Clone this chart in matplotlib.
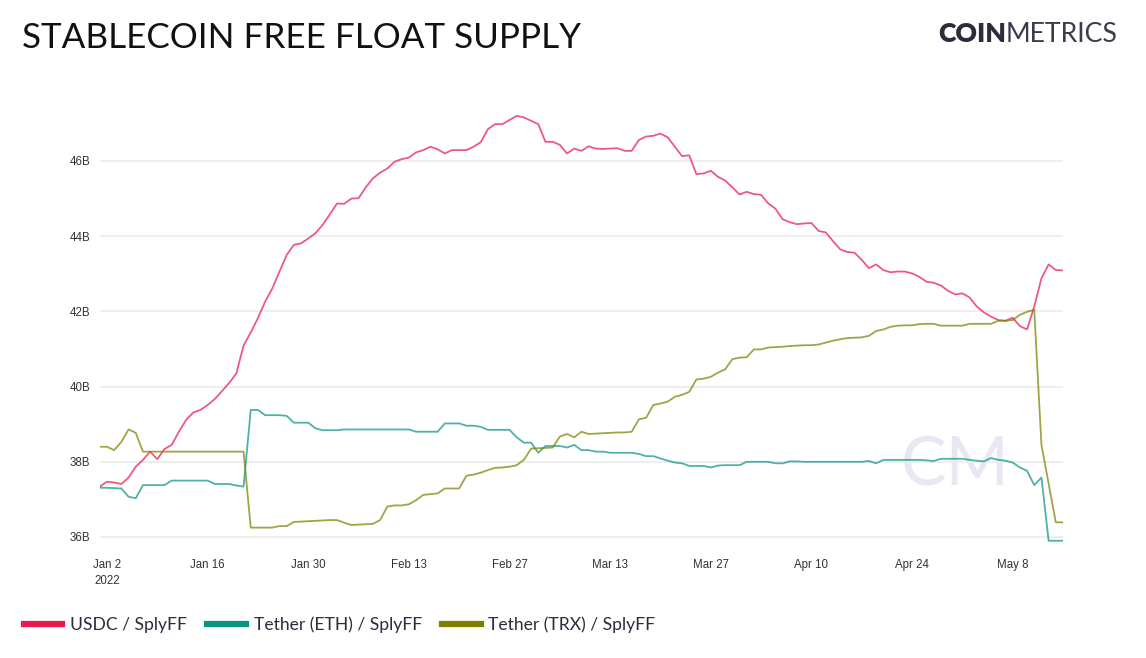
import numpy as np
import pandas as pd
import matplotlib
matplotlib.use("Agg")
import matplotlib.pyplot as plt
import matplotlib.dates as mdates
from matplotlib.lines import Line2D

# daily values, Jan 1 2022 .. May 15 2022, in billions
dates = pd.date_range("2022-01-01", "2022-05-15", freq="D")

usdc = [
    37.34, 37.47, 37.45, 37.41, 37.58, 37.87, 38.05, 38.27, 38.07, 38.34,
    38.45, 38.80, 39.11, 39.31, 39.38, 39.51, 39.67, 39.88, 40.10, 40.35,
    41.09, 41.44, 41.82, 42.26, 42.61, 43.06, 43.50, 43.77, 43.81, 43.94,
    44.08, 44.30, 44.58, 44.87, 44.86, 45.00, 45.01, 45.30, 45.54, 45.69,
    45.80, 45.98, 46.05, 46.09, 46.23, 46.29, 46.38, 46.31, 46.20, 46.29,
    46.29, 46.29, 46.38, 46.50, 46.85, 46.98, 46.98, 47.09, 47.20, 47.16,
    47.07, 46.98, 46.51, 46.51, 46.43, 46.20, 46.33, 46.27, 46.39, 46.33,
    46.32, 46.33, 46.34, 46.27, 46.27, 46.56, 46.65, 46.67, 46.73, 46.63,
    46.38, 46.13, 46.15, 45.65, 45.67, 45.74, 45.58, 45.48, 45.30, 45.11,
    45.18, 45.12, 45.10, 44.87, 44.73, 44.45, 44.37, 44.32, 44.34, 44.35,
    44.14, 44.10, 43.87, 43.65, 43.58, 43.56, 43.37, 43.15, 43.25, 43.10,
    43.04, 43.06, 43.06, 43.01, 42.92, 42.79, 42.76, 42.69, 42.55, 42.45,
    42.48, 42.37, 42.13, 41.97, 41.86, 41.77, 41.75, 41.83, 41.61, 41.52,
    42.13, 42.88, 43.25, 43.10, 43.09,
]

tether_eth = [
    37.31, 37.31, 37.30, 37.29, 37.07, 37.03, 37.38, 37.38, 37.38, 37.38,
    37.50, 37.50, 37.50, 37.50, 37.50, 37.50, 37.41, 37.41, 37.41, 37.37,
    37.34, 39.38, 39.38, 39.24, 39.24, 39.24, 39.22, 39.04, 39.04, 39.04,
    38.89, 38.84, 38.84, 38.84, 38.86, 38.86, 38.86, 38.86, 38.86, 38.86,
    38.86, 38.86, 38.86, 38.86, 38.80, 38.80, 38.80, 38.80, 39.02, 39.02,
    39.02, 38.96, 38.96, 38.93, 38.85, 38.85, 38.85, 38.85, 38.65, 38.51,
    38.51, 38.24, 38.42, 38.42, 38.42, 38.38, 38.45, 38.31, 38.31, 38.27,
    38.27, 38.24, 38.24, 38.24, 38.24, 38.21, 38.15, 38.15, 38.09, 38.03,
    37.98, 37.96, 37.89, 37.89, 37.89, 37.85, 37.90, 37.91, 37.91, 37.91,
    38.00, 38.00, 38.00, 38.00, 37.96, 37.96, 38.01, 38.01, 38.00, 38.00,
    38.00, 38.00, 38.00, 38.00, 38.00, 38.00, 38.00, 38.02, 37.96, 38.05,
    38.05, 38.05, 38.05, 38.05, 38.05, 38.04, 38.02, 38.08, 38.08, 38.08,
    38.08, 38.05, 38.03, 38.01, 38.10, 38.05, 38.03, 37.98, 37.85, 37.76,
    37.38, 37.58, 35.90, 35.90, 35.90,
]

tether_trx = [
    38.40, 38.40, 38.31, 38.53, 38.86, 38.77, 38.27, 38.27, 38.27, 38.27,
    38.27, 38.27, 38.27, 38.27, 38.27, 38.27, 38.27, 38.27, 38.27, 38.27,
    38.27, 36.25, 36.25, 36.25, 36.25, 36.29, 36.29, 36.40, 36.41, 36.42,
    36.43, 36.44, 36.45, 36.45, 36.38, 36.32, 36.33, 36.34, 36.35, 36.45,
    36.81, 36.84, 36.84, 36.87, 36.98, 37.12, 37.14, 37.16, 37.29, 37.29,
    37.29, 37.63, 37.66, 37.71, 37.78, 37.84, 37.85, 37.87, 37.91, 38.05,
    38.35, 38.36, 38.37, 38.38, 38.67, 38.74, 38.65, 38.80, 38.74, 38.75,
    38.76, 38.77, 38.78, 38.78, 38.80, 39.13, 39.17, 39.51, 39.55, 39.60,
    39.73, 39.78, 39.86, 40.19, 40.21, 40.26, 40.37, 40.46, 40.73, 40.77,
    40.78, 40.99, 40.99, 41.04, 41.05, 41.06, 41.08, 41.09, 41.10, 41.10,
    41.12, 41.17, 41.22, 41.26, 41.29, 41.30, 41.31, 41.35, 41.48, 41.52,
    41.59, 41.62, 41.63, 41.63, 41.66, 41.67, 41.67, 41.62, 41.62, 41.62,
    41.62, 41.67, 41.67, 41.67, 41.67, 41.75, 41.75, 41.77, 41.91, 41.99,
    42.04, 38.45, 37.42, 36.39, 36.39,
]

series = [
    ("USDC / SplyFF", usdc, "#e8194f"),
    ("Tether (ETH) / SplyFF", tether_eth, "#0a9484"),
    ("Tether (TRX) / SplyFF", tether_trx, "#808000"),
]

tick_dates = pd.date_range("2022-01-02", "2022-05-08", freq="14D")

W, H = 1146, 658
fig = plt.figure(figsize=(W / 100, H / 100), dpi=100)
fig.patch.set_facecolor("white")

# axes placed so 46B sits at y=161 px and 36B at y=537 px
y_lo, y_hi = 35.85, 47.3
px_per_b = 37.6
bottom_px = 537 + (36 - y_lo) * px_per_b
top_px = 161 - (y_hi - 46) * px_per_b
left_px, right_px = 99.8, 1063
ax = fig.add_axes([left_px / W, 1 - bottom_px / H,
                   (right_px - left_px) / W, (bottom_px - top_px) / H])

# watermark, behind the lines
ax.text(955 / W, 1 - 467 / H, "CM", transform=fig.transFigure, fontsize=49,
        color="#e7e9f2", ha="center", va="center", family="Lato",
        fontweight="normal", zorder=1)

for name, vals, col in series:
    ax.plot(dates, vals, color=col, lw=1.3, alpha=0.72, zorder=3)

ax.set_xlim(dates[0], dates[-1])
ax.set_ylim(y_lo, y_hi)

yt = [36, 38, 40, 42, 44, 46]
ax.set_yticks(yt)
ax.set_yticklabels([f"{v}B" for v in yt])
ax.set_xticks(tick_dates)
xl = [d.strftime("%b ") + str(d.day) for d in tick_dates]
xl[0] = xl[0] + "\n2022"
ax.set_xticklabels(xl)

ax.grid(axis="y", color="#eeeeee", lw=1.4, zorder=0)
for s in ax.spines.values():
    s.set_visible(False)
ax.tick_params(axis="both", length=0, labelsize=8.3, labelcolor="#333333")
ax.tick_params(axis="y", pad=7)
ax.tick_params(axis="x", pad=12)
for lab in ax.get_xticklabels() + ax.get_yticklabels():
    lab.set_family("Liberation Sans")
    lab.set_linespacing(1.45)

# title and logo
fig.text(22 / W, 1 - 38 / H, "STABLECOIN FREE FLOAT SUPPLY", fontsize=25.2,
         family="Lato", color="#111111", ha="left", va="center")
logo_y = 1 - 34 / H
t1 = fig.text(938 / W, logo_y, "COIN", fontsize=19.2, family="Lato",
              fontweight="heavy", color="#2b2d3c", ha="left", va="center")
fig.canvas.draw()
bb = t1.get_window_extent()
fig.text(bb.x1 / W, logo_y, "METRICS", fontsize=19.2, family="Lato",
         fontweight="normal", color="#3a3c4a", ha="left", va="center")

# legend
handles = [Line2D([], [], color=c, lw=4.5) for _, _, c in series]
fig.legend(handles, [n for n, _, _ in series], loc="center left",
           bbox_to_anchor=(8 / W, 1 - 625 / H), ncol=3, frameon=False,
           handlelength=2.2, handletextpad=0.45, columnspacing=1.15,
           prop={"family": "Lato", "size": 12.6}, labelcolor="#2b2d3c")

fig.savefig("out.png", dpi=100, facecolor="white")
